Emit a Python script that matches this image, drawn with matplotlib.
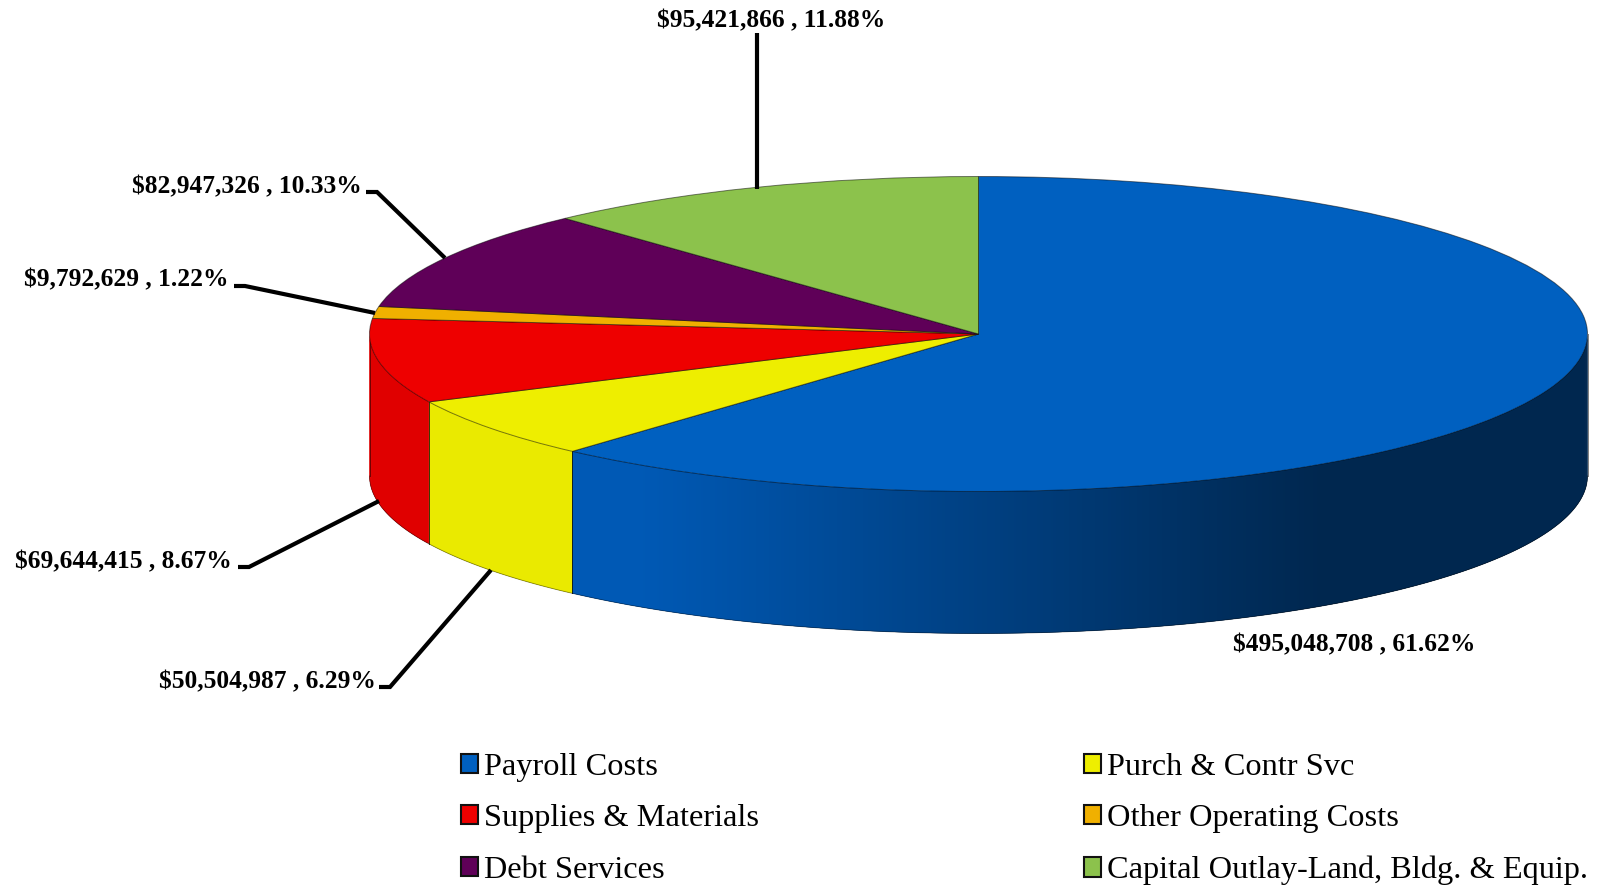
import numpy as np
import matplotlib
matplotlib.use("Agg")
import matplotlib.pyplot as plt
from matplotlib.collections import PolyCollection
from matplotlib.colors import to_rgb

categories = ["Payroll Costs", "Purch & Contr Svc", "Supplies & Materials",
              "Other Operating Costs", "Debt Services",
              "Capital Outlay-Land, Bldg. & Equip."]
amounts = [495048708, 50504987, 69644415, 9792629, 82947326, 95421866]
colors = ["#0060C0", "#EEEE00", "#EE0000", "#F0B000", "#5F0058", "#8CC24C"]
wall_colors = ["#0059B5", "#EAEA00", "#E00000", "#F0B000", "#5F0058", "#8CC24C"]

W, H = 1602, 888
# pie geometry in pixels
cx, cy, rx, ry, depth = 978.5, 334, 609, 157.5, 142

plt.rcParams['font.family'] = ['Liberation Serif', 'DejaVu Serif']
fig = plt.figure(figsize=(W / 100, H / 100), dpi=100)
ax = fig.add_axes([0, 0, 1, 1])

wedges, _ = ax.pie(amounts, colors=colors, startangle=90, counterclock=False,
                   radius=1, wedgeprops=dict(edgecolor='#00000080', linewidth=0.7, zorder=3))
ax.set_aspect('auto')
ax.set_xlim(-cx / rx, (W - cx) / rx)
ax.set_ylim((cy - H) / ry, cy / ry)

# side wall, cut from the same angles as the pie
total = sum(amounts)
edges = np.concatenate([[0], np.cumsum(amounts)]) / total * 360
dark = np.array(to_rgb("#00274F"))
d = depth / ry
for i in range(len(amounts)):
    a0, a1 = max(edges[i], 90), min(edges[i + 1], 270)
    if a1 <= a0:
        continue
    t = np.radians(np.linspace(a0, a1, int((a1 - a0) * 4) + 2))
    x, y = np.sin(t), np.cos(t)
    polys, cols = [], []
    base = np.array(to_rgb(wall_colors[i]))
    for j in range(len(t) - 1):
        # each strip runs on under the next ones, so no seams show
        k = np.arange(j, min(j + 4, len(t)))
        polys.append(np.r_[np.c_[x[k], y[k]], np.c_[x[k][::-1], y[k][::-1] - d]])
        if i == 0:
            # blue wall darkens towards the right
            px = cx + rx * (x[j] + x[j + 1]) / 2
            f = np.clip((px - 640) / (1320 - 640), 0, 1)
            cols.append(base * (1 - f) + dark * f)
        else:
            cols.append(base)
    ax.add_collection(PolyCollection(polys, facecolors=cols, edgecolors='none', zorder=2))
    # outlines of the wall piece
    ax.plot(x, y - d, color='#00000070', lw=0.6, zorder=2.5)
    ax.plot([x[0], x[0]], [y[0], y[0] - d], color='#00000080', lw=0.7, zorder=2.5)
    ax.plot([x[-1], x[-1]], [y[-1], y[-1] - d], color='#00000080', lw=0.7, zorder=2.5)

# overlay in pixel coordinates for the labels
ov = fig.add_axes([0, 0, 1, 1], zorder=5)
ov.set_xlim(0, W)
ov.set_ylim(H, 0)
ov.axis('off')

labels = [f"${v:,} , {v / total * 100:.2f}%" for v in amounts]
label_x = [1354, 376, 232, 228, 362, 771]
label_y = [645, 682, 562, 280, 187, 21]
label_ha = ['center', 'right', 'right', 'right', 'right', 'center']
for s, lx, ly, ha in zip(labels, label_x, label_y, label_ha):
    ov.text(lx, ly, s, ha=ha, va='center', fontsize=18.4, fontweight='bold', color='black')

leaders = [
    [(379, 687), (390, 687), (491, 570)],
    [(238, 567), (249, 567), (379, 501)],
    [(234, 286), (245, 286), (375, 313)],
    [(366, 192), (377, 192), (445, 258)],
    [(757, 33), (757, 189)],
]
for pts in leaders:
    xs, ys = zip(*pts)
    ov.plot(xs, ys, color='black', lw=3, solid_capstyle='butt', solid_joinstyle='miter')

order = [0, 2, 4, 1, 3, 5]
handles = [plt.Rectangle((0, 0), 1, 1, facecolor=wedges[i].get_facecolor(),
                         edgecolor='#111111', linewidth=1.5) for i in order]
fig.legend(handles, [categories[i] for i in order], ncol=2, frameon=False,
           loc='lower left', bbox_to_anchor=(458.4 / W, 0.0), fontsize=23.3,
           handlelength=0.54, handleheight=0.54, handletextpad=0.17,
           labelspacing=0.7, columnspacing=10.03, borderpad=0.08, borderaxespad=0)

fig.savefig("out.png", dpi=100, facecolor='white')
